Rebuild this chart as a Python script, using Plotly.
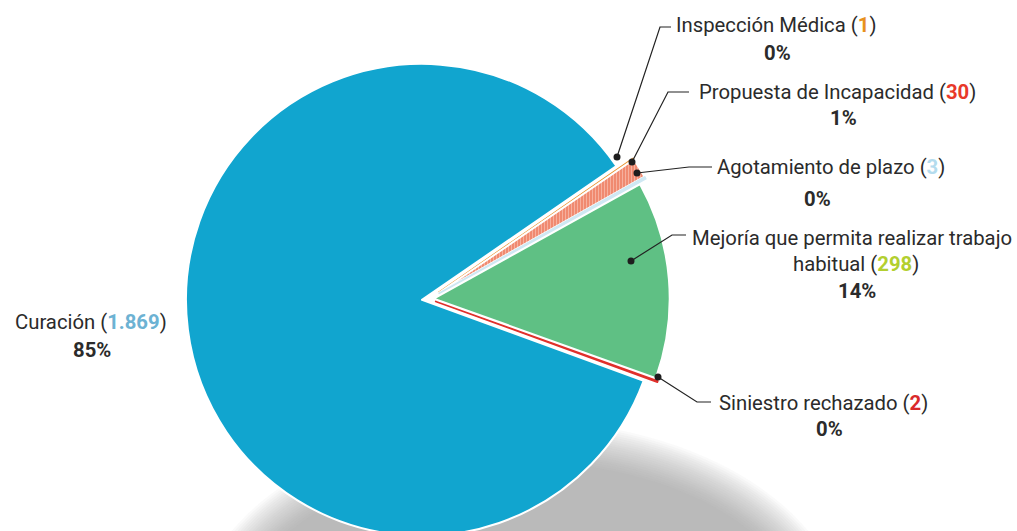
import plotly.graph_objects as go

# ---------------- data ----------------
categories = ["Mejoría que permita realizar trabajo habitual", "Siniestro rechazado", "Curación",
              "Inspección Médica", "Propuesta de Incapacidad", "Agotamiento de plazo"]
values = [298, 2, 1869, 1, 30, 3]
value_labels = ["298", "2", "1.869", "1", "30", "3"]
percent_labels = ["14%", "0%", "85%", "0%", "1%", "0%"]
slice_colors = ["#5fc084", "#e0302b", "#11a5cf", "#e8912a", "#f08a70", "#cfe8f3"]
number_colors = ["#b3cf2f", "#d92a2b", "#6cb2d3", "#e8911e", "#e8392a", "#b4dcee"]
pulls = [0.02, 0.03, 0.03, 0.05, 0.05, 0.05]

W, H = 1017, 560

def px(x):
    return x / W

def py(y):
    return (H - y) / H

# pie geometry (pixels)
cx, cy, r = 429, 299, 236
box = 2 * r * (1 + max(pulls))

line_colors = ["white", slice_colors[1], "white", slice_colors[3], "white", slice_colors[5]]
line_widths = [2, 1.6, 2, 1.6, 2, 1.8]

fig = go.Figure()
fig.add_trace(go.Pie(
    labels=categories, values=values, sort=False, direction="clockwise", rotation=61,
    pull=pulls, textinfo="none", hoverinfo="label+value+percent",
    marker=dict(colors=slice_colors, line=dict(color=line_colors, width=line_widths),
                pattern=dict(shape=["", "", "", "", "|", ""], fgcolor="#f7b4a4",
                             bgcolor=slice_colors, size=3, solidity=0.3)),
    domain=dict(x=[px(cx - box / 2), px(cx + box / 2)], y=[py(cy + box / 2), py(cy - box / 2)]),
    showlegend=False,
))

shapes = []
# soft shadow under the pie (stacked translucent ellipses)
n = 20
scx, scy = 520, 632
for i in range(n):
    rx = 328 - i * 2.2
    ry = 212 - i * 2.2
    shapes.append(dict(type="circle", xref="paper", yref="paper", layer="below",
                       x0=px(scx - rx), x1=px(scx + rx), y0=py(scy + ry), y1=py(scy - ry),
                       fillcolor="rgba(150,152,157,0.05)", line=dict(width=0)))

# leader lines: (dot, elbow, end)
leaders = {
    "Inspección Médica": [(617, 157), (660, 27), (671, 27)],
    "Propuesta de Incapacidad": [(632, 162), (668, 92), (689, 92)],
    "Agotamiento de plazo": [(637, 173), (689, 167), (712, 167)],
    "Mejoría que permita realizar trabajo habitual": [(631, 261), (672, 235), (686, 235)],
    "Siniestro rechazado": [(658, 377), (697, 402), (711, 402)],
}
for name, pts in leaders.items():
    path = "M " + " L ".join(f"{px(x)},{py(y)}" for x, y in pts)
    shapes.append(dict(type="path", xref="paper", yref="paper", path=path,
                       line=dict(color="#222222", width=1.2)))
    dx, dy = pts[0]
    shapes.append(dict(type="circle", xref="paper", yref="paper",
                       x0=px(dx - 3.5), x1=px(dx + 3.5), y0=py(dy + 3.5), y1=py(dy - 3.5),
                       fillcolor="#1e1e1e", line=dict(width=0)))

FONT = "Roboto, Liberation Sans, Arial, sans-serif"
TXT = "#2b2b2b"
SIZE = 20.3

def num(i):
    return f"(<b><span style='color:{number_colors[i]}'>{value_labels[i]}</span></b>)"

annotations = []
def add(text, x, y, bold=False):
    annotations.append(dict(text=f"<b>{text}</b>" if bold else text, x=px(x), y=py(y),
                            xref="paper", yref="paper", xanchor="center", yanchor="middle",
                            showarrow=False, font=dict(family=FONT, size=SIZE, color=TXT)))

# label rows
add(f"Inspección Médica {num(3)}", 776, 25)
add(percent_labels[3], 777, 53, bold=True)
add(f"Propuesta de Incapacidad {num(4)}", 837, 92)
add(percent_labels[4], 843, 118, bold=True)
add(f"Agotamiento de plazo {num(5)}", 831, 167)
add(percent_labels[5], 817, 199, bold=True)
add("Mejoría que permita realizar trabajo", 852, 238)
add(f"habitual {num(0)}", 856, 264)
add(percent_labels[0], 857, 291, bold=True)
add(f"Siniestro rechazado {num(1)}", 823, 403)
add(percent_labels[1], 829, 429, bold=True)
add(f"Curación {num(2)}", 91, 322)
add(percent_labels[2], 92, 350, bold=True)

fig.update_layout(width=W, height=H, margin=dict(l=0, r=0, t=0, b=0),
                  paper_bgcolor="white", plot_bgcolor="white",
                  shapes=shapes, annotations=annotations)

fig.write_html("out.html", config={"displayModeBar": False}, post_script=(
    "document.body.style.margin='0';"
    "document.body.style.overflow='hidden';"
    "document.documentElement.style.overflow='hidden';"))
